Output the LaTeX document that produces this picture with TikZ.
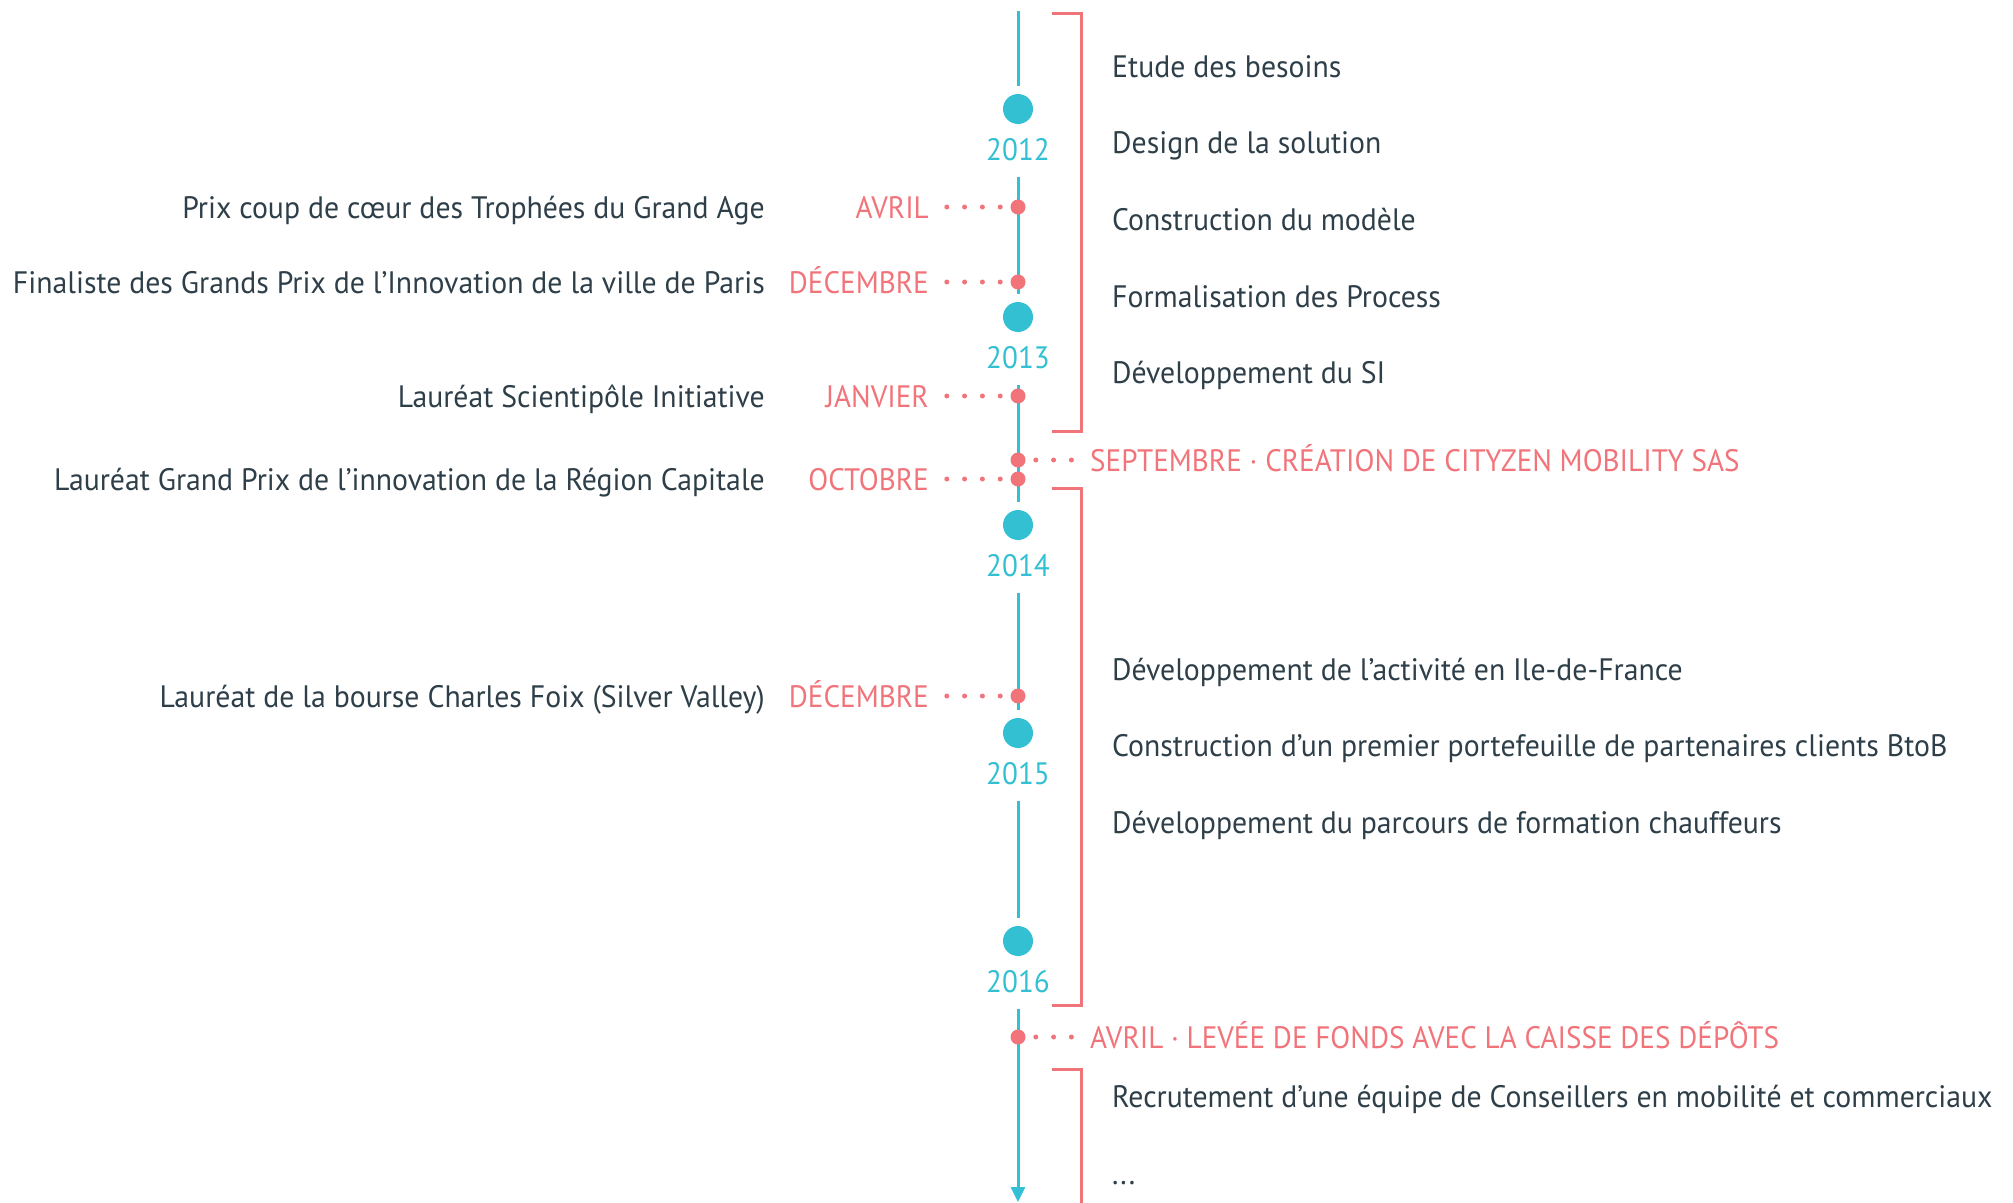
\documentclass[tikz,border=0pt]{standalone}
\usepackage{fontspec}
\setmainfont[FakeStretch=0.96]{PT Sans}
\newfontfamily\capsfont[FakeStretch=0.94]{PT Sans}
\usetikzlibrary{arrows.meta}
\definecolor{ink}{HTML}{2E3F49}
\definecolor{cyanx}{HTML}{33C0D3}
\definecolor{redx}{HTML}{F1747A}
\begin{document}
\begin{tikzpicture}[x=1pt,y=-1pt,
  txt/.style={inner sep=0pt, text height=22pt, text depth=0pt, font=\fontsize{31}{37}\selectfont},
  desc/.style={txt, text=ink},
  mon/.style={txt, text=redx, font=\fontsize{31}{37}\selectfont\capsfont},
  yr/.style={txt, text=cyanx, font=\fontsize{31}{37}\selectfont\capsfont},
  ydot/.style={circle, fill=cyanx, minimum size=30pt, inner sep=0pt},
  evdot/.style={circle, fill=redx, minimum size=15pt, inner sep=0pt},
  axis/.style={draw=cyanx, line width=3pt},
  brk/.style={draw=redx, line width=3pt},
  dotline/.style={draw=redx, line width=5pt, line cap=round, dash pattern=on 0pt off 17.8pt},
]
\useasboundingbox (0,0) rectangle (2013,1202);

% years
\node[ydot] (c12) at (1018,109) {};
\node[yr] (t12) at (1018,149) {2012};
\node[ydot] (c13) at (1018,317) {};
\node[yr] (t13) at (1018,357) {2013};
\node[ydot] (c14) at (1018,525) {};
\node[yr] (t14) at (1018,565) {2014};
\node[ydot] (c15) at (1018,733) {};
\node[yr] (t15) at (1018,773) {2015};
\node[ydot] (c16) at (1018,941) {};
\node[yr] (t16) at (1018,981) {2016};

\coordinate (axtop) at (1018,11);
\coordinate (axbot) at (1018,1202);

% axis
\draw[axis] (axtop) -- ([yshift=8pt]c12.north);
\draw[axis] ([yshift=-17pt]t12.south) -- ([yshift=8pt]c13.north);
\draw[axis] ([yshift=-17pt]t13.south) -- ([yshift=8pt]c14.north);
\draw[axis] ([yshift=-17pt]t14.south) -- ([yshift=8pt]c15.north);
\draw[axis] ([yshift=-17pt]t15.south) -- ([yshift=8pt]c16.north);
\draw[axis, -{Triangle[length=15pt,width=14pt]}] ([yshift=-17pt]t16.south) -- (axbot);

% brackets
\draw[brk] (1052,13) -- (1081,13) -- (1081,431) -- (1052,431);
\draw[brk] (1052,488) -- (1081,488) -- (1081,1005) -- (1052,1005);
\draw[brk] (1052,1069) -- (1081,1069) -- (1081,1204);

% left events
\node[evdot] (e1) at (1018,207) {};
\node[mon, anchor=east] (m1) at (929,207) {AVRIL};
\node[desc, anchor=east] (d1) at (765,207) {Prix coup de cœur des Trophées du Grand Age};
\node[evdot] (e2) at (1018,282) {};
\node[mon, anchor=east] (m2) at (929,282) {DÉCEMBRE};
\node[desc, anchor=east] (d2) at (765,282) {Finaliste des Grands Prix de l’Innovation de la ville de Paris};
\node[evdot] (e3) at (1018,396) {};
\node[mon, anchor=east] (m3) at (929,396) {JANVIER};
\node[desc, anchor=east] (d3) at (765,396) {Lauréat Scientipôle Initiative};
\node[evdot] (e4) at (1018,479) {};
\node[mon, anchor=east] (m4) at (929,479) {OCTOBRE};
\node[desc, anchor=east] (d4) at (765,479) {Lauréat Grand Prix de l’innovation de la Région Capitale};
\node[evdot] (e5) at (1018,696) {};
\node[mon, anchor=east] (m5) at (929,696) {DÉCEMBRE};
\node[desc, anchor=east] (d5) at (765,696) {Lauréat de la bourse Charles Foix (Silver Valley)};

\foreach \i in {1,...,5}{
  \draw[dotline, shorten >=12pt] (e\i.center) -- (e\i.center -| m\i.east);
}

% right events
\node[evdot] (s1) at (1018,460) {};
\node[mon, anchor=west] (sl1) at (1090,460) {SEPTEMBRE · CRÉATION DE CITYZEN MOBILITY SAS};
\node[evdot] (s2) at (1018,1037) {};
\node[mon, anchor=west] (sl2) at (1090,1037) {AVRIL · LEVÉE DE FONDS AVEC LA CAISSE DES DÉPÔTS};
\draw[dotline, shorten >=12pt] (s1.center) -- (s1.center -| sl1.west);
\draw[dotline, shorten >=12pt] (s2.center) -- (s2.center -| sl2.west);

% lists
\node[desc, anchor=west] (r1) at (1112,66) {Etude des besoins};
\node[desc, anchor=west] (r2) at (1112,142) {Design de la solution};
\node[desc, anchor=west] (r3) at (1112,219) {Construction du modèle};
\node[desc, anchor=west] (r4) at (1112,296) {Formalisation des Process};
\node[desc, anchor=west] (r5) at (1112,372) {Développement du SI};
\node[desc, anchor=west] (q1) at (1112,669) {Développement de l’activité en Ile-de-France};
\node[desc, anchor=west] (q2) at (1112,745) {Construction d’un premier portefeuille de partenaires clients BtoB};
\node[desc, anchor=west] (q3) at (1112,822) {Développement du parcours de formation chauffeurs};
\node[desc, anchor=west] (p1) at (1112,1096) {Recrutement d’une équipe de Conseillers en mobilité et commerciaux};
\node[desc, anchor=west] (p2) at (1112,1173) {...};
\end{tikzpicture}
\end{document}
